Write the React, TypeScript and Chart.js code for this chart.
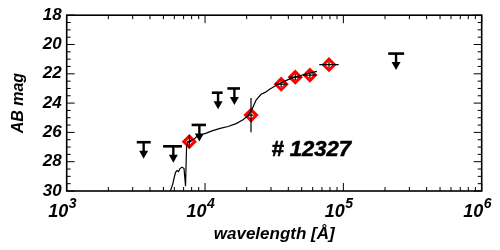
import React, { useEffect, useRef } from "react";
import { Chart, registerables } from "chart.js";
Chart.register(...registerables);

// ---- data ----
const specWave = [5490, 5650, 5840, 5970, 6120, 6280, 6430, 6590, 6820, 7050, 7230, 7350, 7530, 7920, 8320, 8750, 9200, 9680, 10330, 11240, 12850, 14670, 16760, 18820, 20460, 21880, 23390, 25420, 27170, 29520, 33720, 39840, 45470, 52870, 64270];
const specMag = [30.33, 29.93, 29.53, 29.13, 28.73, 28.6, 28.67, 28.47, 28.37, 28.47, 29.67, 27.0, 26.67, 26.53, 26.47, 26.27, 26.2, 26.13, 26.03, 25.9, 25.73, 25.6, 25.4, 25.13, 24.87, 24.4, 23.8, 23.4, 23.27, 23.03, 22.71, 22.4, 22.2, 22.03, 21.83];

const detWave = [7700, 21500, 35500, 44900, 57300, 78700];
const detMag = [26.63, 24.82, 22.71, 22.23, 22.09, 21.38];
const detWaveLo = [7400, 20700, 32100, 40600, 51300, 67000];
const detWaveHi = [8000, 22400, 39200, 49700, 64000, 92500];
const detMagErr = [0.45, 1.17, 0.2, 0.2, 0.2, 0.2];

const limWave = [3600, 5900, 9100, 12420, 16300, 240400];
const limMag = [26.67, 26.95, 25.49, 23.29, 23.0, 20.62];
const limWaveLo = [3210, 4970, 8000, 11200, 14500, 211000];
const limWaveHi = [4050, 6810, 10150, 13400, 17900, 275000];

const xDecades = [3, 4, 5, 6];
const yTicks = [18, 20, 22, 24, 26, 28, 30];
const objectLabel = "# 12327";
const labelPos = { x: 58500, y: 27.62 };

const FAMILY = "'Liberation Sans', Arial, Helvetica, sans-serif";

const decorPlugin = {
  id: "decor",
  afterDatasetsDraw(chart: any) {
    const { ctx, scales } = chart;
    const xs = scales.x;
    const ys = scales.y;
    ctx.save();
    ctx.strokeStyle = "#000";
    ctx.fillStyle = "#000";
    // error bars on detections
    ctx.lineWidth = 1.2;
    for (let i = 0; i < detWave.length; i++) {
      const cx = xs.getPixelForValue(detWave[i]);
      const cy = ys.getPixelForValue(detMag[i]);
      ctx.beginPath();
      ctx.moveTo(xs.getPixelForValue(detWaveLo[i]), cy);
      ctx.lineTo(xs.getPixelForValue(detWaveHi[i]), cy);
      ctx.moveTo(cx, ys.getPixelForValue(detMag[i] - detMagErr[i]));
      ctx.lineTo(cx, ys.getPixelForValue(detMag[i] + detMagErr[i]));
      ctx.stroke();
    }
    // upper limits
    for (let i = 0; i < limWave.length; i++) {
      const cx = xs.getPixelForValue(limWave[i]);
      const cy = ys.getPixelForValue(limMag[i]);
      ctx.lineWidth = 2.6;
      ctx.beginPath();
      ctx.moveTo(xs.getPixelForValue(limWaveLo[i]), cy);
      ctx.lineTo(xs.getPixelForValue(limWaveHi[i]), cy);
      ctx.stroke();
      ctx.lineWidth = 2.4;
      const tip = cy + 16.5;
      ctx.beginPath();
      ctx.moveTo(cx, cy);
      ctx.lineTo(cx, tip - 5);
      ctx.stroke();
      ctx.beginPath();
      ctx.moveTo(cx - 4.5, tip - 8);
      ctx.lineTo(cx + 4.5, tip - 8);
      ctx.lineTo(cx, tip);
      ctx.closePath();
      ctx.fill();
    }
    // object label
    ctx.font = `italic bold 22px ${FAMILY}`;
    ctx.textAlign = "center";
    ctx.textBaseline = "alphabetic";
    ctx.lineWidth = 0.6;
    const lx = xs.getPixelForValue(labelPos.x);
    const ly = ys.getPixelForValue(labelPos.y);
    ctx.fillText(objectLabel, lx, ly);
    ctx.strokeText(objectLabel, lx, ly);
    ctx.restore();
  },
  afterDraw(chart: any) {
    const { ctx, chartArea: a, scales } = chart;
    const xs = scales.x;
    const ys = scales.y;
    ctx.save();
    ctx.strokeStyle = "#000";
    ctx.fillStyle = "#000";
    ctx.lineWidth = 1.6;
    ctx.strokeRect(a.left, a.top, a.right - a.left, a.bottom - a.top);
    ctx.lineWidth = 1;
    ctx.beginPath();
    // x ticks (bottom & top, inward)
    for (let e = xDecades[0]; e <= xDecades[xDecades.length - 1]; e++) {
      for (let k = 1; k <= 9; k++) {
        if (e === xDecades[xDecades.length - 1] && k > 1) break;
        const px = xs.getPixelForValue(k * Math.pow(10, e));
        const len = k === 1 ? 8 : 4;
        ctx.moveTo(px, a.bottom);
        ctx.lineTo(px, a.bottom - len);
        ctx.moveTo(px, a.top);
        ctx.lineTo(px, a.top + len);
      }
    }
    // y ticks (left & right, inward)
    for (let m = 18; m <= 30.001; m += 0.5) {
      const py = ys.getPixelForValue(m);
      const len = Math.abs(m % 2) < 1e-6 ? 8 : 4;
      ctx.moveTo(a.left, py);
      ctx.lineTo(a.left + len, py);
      ctx.moveTo(a.right, py);
      ctx.lineTo(a.right - len, py);
    }
    ctx.stroke();
    // x tick labels: 10^n
    for (const e of xDecades) {
      const px = xs.getPixelForValue(Math.pow(10, e));
      ctx.font = `italic bold 18px ${FAMILY}`;
      ctx.textAlign = "right";
      ctx.textBaseline = "alphabetic";
      ctx.fillText("10", px + 1.5, 217);
      ctx.font = `italic bold 14px ${FAMILY}`;
      ctx.textAlign = "left";
      ctx.fillText(String(e), px + 2, 207.5);
    }
    ctx.restore();
  },
};

export default function App() {
  const ref = useRef<HTMLCanvasElement | null>(null);
  useEffect(() => {
    if (!ref.current) return;
    const chart = new Chart(ref.current, {
      type: "scatter",
      data: {
        datasets: [
          {
            label: "spectrum",
            data: specWave.map((w, i) => ({ x: w, y: specMag[i] })),
            showLine: true,
            borderColor: "#000",
            borderWidth: 1.2,
            pointRadius: 0,
            tension: 0,
          },
          {
            label: "detections",
            data: detWave.map((w, i) => ({ x: w, y: detMag[i] })),
            pointStyle: "rectRot",
            pointRadius: 5.5,
            borderWidth: 3,
            borderColor: "#ff0000",
            backgroundColor: "#ffffff",
            showLine: false,
          },
        ],
      },
      options: {
        animation: false,
        responsive: false,
        devicePixelRatio: 1,
        layout: { padding: { top: 11, right: 18.3, left: 0, bottom: 0 } },
        plugins: { legend: { display: false }, tooltip: { enabled: false } },
        scales: {
          x: {
            type: "logarithmic",
            min: 1000,
            max: 1000000,
            grid: { display: false, drawTicks: false },
            border: { display: false },
            ticks: { display: false },
            title: {
              display: true,
              text: "wavelength [Å]",
              color: "#000",
              font: { family: FAMILY, size: 17, weight: "bold", style: "italic" },
              padding: { top: 0, bottom: 5.5 },
            },
            afterFit: (s: any) => {
              s.height = 59;
            },
          },
          y: {
            type: "linear",
            reverse: true,
            min: 18,
            max: 30,
            grid: { display: false, drawTicks: false },
            border: { display: false },
            afterBuildTicks: (s: any) => {
              s.ticks = yTicks.map((v) => ({ value: v }));
            },
            ticks: {
              color: "#000",
              padding: 5,
              font: { family: FAMILY, size: 17, weight: "bold", style: "italic" },
              callback: (v: any) => String(v),
            },
            title: {
              display: true,
              text: "AB mag",
              color: "#000",
              font: { family: FAMILY, size: 16, weight: "bold", style: "italic" },
              padding: { top: 8.5, bottom: 0 },
            },
            afterFit: (s: any) => {
              s.width = 66.7;
            },
          },
        },
      },
      plugins: [decorPlugin],
    } as any);
    return () => chart.destroy();
  }, []);
  return (
    <div style={{ position: "fixed", left: 0, top: 0, width: 500, height: 250, background: "#fff" }}>
      <canvas ref={ref} width={500} height={250} />
    </div>
  );
}
